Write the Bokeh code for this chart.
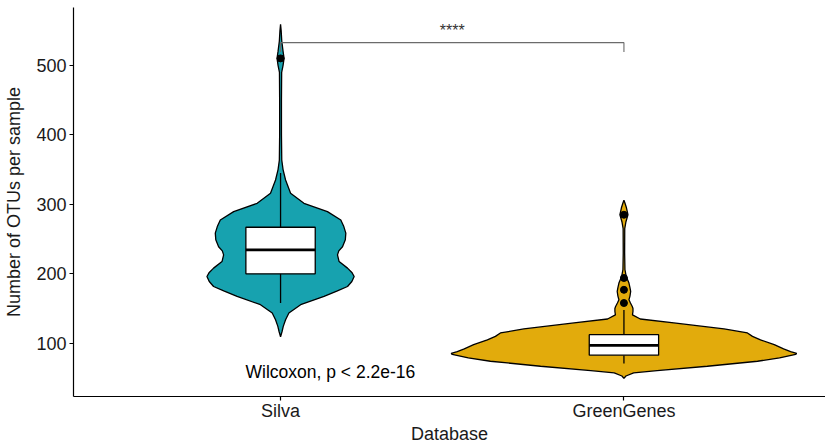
import numpy as np
from bokeh.plotting import figure
from bokeh.models import FixedTicker, Range1d
from bokeh.core.properties import value
from bokeh.embed import file_html
from bokeh.resources import INLINE

# ---------------- data ----------------
categories = ["Silva", "GreenGenes"]
fill_colors = ["#17A2AF", "#E2AB0C"]

# violin outlines: OTU level and relative density (arbitrary units, max = 173)
silva_levels = [109.5, 117, 124.4, 134, 143.6, 155.6, 167.5, 175, 181.8, 189, 196.2,
                202, 208.2, 217.7, 227.3, 233, 239, 249, 258.5, 268, 277.5, 289.5,
                301.5, 316, 335, 350, 363.7, 400, 450, 490, 500, 510, 520, 535, 550, 559]
silva_density = [0, 1.5, 2.7, 5, 8.3, 20, 43.3, 56, 66.7, 71, 73.3,
                 71, 66.7, 58.3, 56.7, 58, 61.7, 64.5, 65, 63, 60, 46.7,
                 23.3, 10, 5, 2.5, 1.2, 0.9, 0.9, 1.1, 2.5, 3.5, 2.5, 1.2, 0.6, 0]

gg_levels = [49.5, 53, 57.5, 60.8, 67, 74.2, 79, 84, 85.5, 88, 92, 98.1, 105, 110,
             114.9, 120.7, 129.3, 135, 141, 146, 150, 153, 158, 162.7, 168, 174.6,
             180, 186.7, 196, 206, 230, 265, 275, 285, 295, 302, 306]
gg_density = [0, 2, 9.7, 33, 83, 133, 155, 171, 172, 166, 159, 149.7, 136, 128,
              123, 99.7, 49.7, 16.3, 8.5, 9, 9, 8.3, 6.5, 5, 6, 6.7,
              6, 5, 2.3, 1, 0.7, 0.8, 2, 4, 2.5, 1, 0]

# box statistics: lower whisker, Q1, median, Q3, upper whisker
silva_box = [158, 200, 234.5, 267, 345]
gg_box = [71, 83, 97, 112.5, 148]
silva_outliers = [510]
gg_outliers = [158, 177, 194, 285]

y_ticks = [100, 200, 300, 400, 500]
bracket_y = 532.6
bracket_tip = 519
signif_label = "****"
test_label = "Wilcoxon, p < 2.2e-16"
test_label_pos = (0.898, 59)

# ---------------- figure ----------------
FONT = "Liberation Sans"
p = figure(width=825, height=446, output_backend="svg", toolbar_location=None,
           x_range=Range1d(0.397, 2.587), y_range=Range1d(23.5, 583.2),
           min_border_left=73, min_border_right=0, min_border_top=7,
           min_border_bottom=49)
p.outline_line_color = None
p.grid.visible = False
p.background_fill_color = "white"
p.border_fill_color = "white"

max_density = max(max(silva_density), max(gg_density))
VIOLIN_HALF = 0.503   # half width (x units) of the widest violin
BOX_HALF = 0.101

violins = [(silva_levels, silva_density), (gg_levels, gg_density)]
boxes = [silva_box, gg_box]
outliers = [silva_outliers, gg_outliers]

for i, cat in enumerate(categories):
    c = i + 1
    lv, dens = violins[i]
    w = np.array(dens) / max_density * VIOLIN_HALF
    lv = np.array(lv)
    xs = np.concatenate([c - w, (c + w)[::-1]])
    ys = np.concatenate([lv, lv[::-1]])
    p.patch(xs, ys, fill_color=fill_colors[i], line_color="black", line_width=1.3)

    lo, q1, med, q3, hi = boxes[i]
    p.segment(x0=[c, c], y0=[lo, q3], x1=[c, c], y1=[q1, hi],
              line_color="black", line_width=1.3)
    p.quad(left=[c - BOX_HALF], right=[c + BOX_HALF], bottom=[q1], top=[q3],
           fill_color="white", line_color="black", line_width=1.3)
    p.segment(x0=[c - BOX_HALF], y0=[med], x1=[c + BOX_HALF], y1=[med],
              line_color="black", line_width=2.6)
    p.scatter(x=[c] * len(outliers[i]), y=outliers[i], size=7,
              fill_color="black", line_color="black")

# significance bracket
p.line(x=[1, 1, 2, 2], y=[bracket_tip, bracket_y, bracket_y, bracket_tip],
       line_color="#6b6b6b", line_width=1.1)
p.text(x=[1.5], y=[bracket_y + 17], text=[signif_label],
       text_font=value(FONT), text_font_size="16px", text_color="#333333",
       text_align="center", text_baseline="alphabetic")

p.text(x=[test_label_pos[0]], y=[test_label_pos[1]], text=[test_label],
       text_font=value(FONT), text_font_size="17.5px", text_color="black",
       text_align="left", text_baseline="alphabetic")

# axes
for ax in (p.xaxis[0], p.yaxis[0]):
    ax.axis_line_color = "black"
    ax.axis_line_width = 1.2
    ax.major_tick_line_color = "black"
    ax.major_tick_line_width = 1.2
    ax.major_tick_out = 4
    ax.major_tick_in = 0
    ax.minor_tick_line_color = None
    ax.major_label_text_font = FONT
    ax.major_label_text_font_size = "18px"
    ax.major_label_text_color = "#1a1a1a"
    ax.axis_label_text_font = FONT
    ax.axis_label_text_font_size = "18px"
    ax.axis_label_text_font_style = "normal"
    ax.axis_label_text_color = "#1a1a1a"

p.xaxis.ticker = FixedTicker(ticks=[i + 1 for i in range(len(categories))])
p.xaxis.major_label_overrides = {i + 1: c for i, c in enumerate(categories)}
p.xaxis.axis_label = "Database"
p.xaxis.major_label_standoff = 0
p.xaxis.axis_label_standoff = 0

p.yaxis.ticker = FixedTicker(ticks=y_ticks)
p.yaxis.axis_label = "Number of OTUs per sample"
p.yaxis.major_label_standoff = 3
p.yaxis.axis_label_standoff = 9

open("out.html", "w").write(file_html(p, INLINE))
